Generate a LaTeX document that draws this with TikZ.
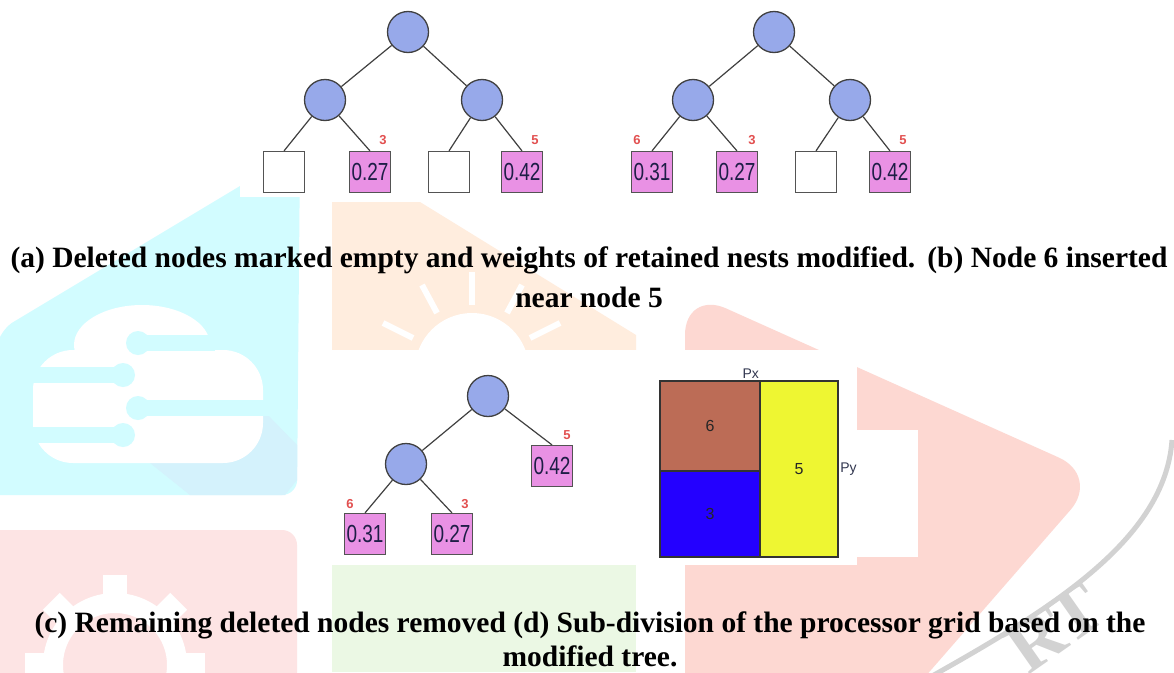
\documentclass[tikz,border=0pt]{standalone}
\usepackage{graphicx}
\usepackage{fontspec}
\setmainfont{Liberation Serif}
\newfontfamily\arialfont{Liberation Sans}
\usetikzlibrary{positioning}

\definecolor{nodeblue}{RGB}{151,169,234}
\definecolor{leafpink}{RGB}{233,145,228}
\definecolor{linegray}{RGB}{64,64,64}
\definecolor{wtred}{RGB}{226,80,80}
\definecolor{leaftext}{RGB}{30,30,70}
\definecolor{cbrown}{RGB}{188,108,86}
\definecolor{cblue}{RGB}{36,0,255}
\definecolor{cyellow}{RGB}{238,246,50}
\definecolor{axgray}{RGB}{50,55,80}
\definecolor{wmcyan}{RGB}{210,252,255}
\definecolor{wmcyandark}{RGB}{212,242,252}
\definecolor{wmorange}{RGB}{255,237,222}
\definecolor{wmred}{RGB}{253,216,210}
\definecolor{wmpink}{RGB}{253,228,228}
\definecolor{wmgreen}{RGB}{235,248,228}

\newcommand{\wval}[1]{\scalebox{1}[1.3]{#1}}

\tikzset{
  tnode/.style={circle, draw=linegray, line width=1.3pt, fill=nodeblue,
    minimum size=41pt, inner sep=0pt},
  leaf/.style={rectangle, draw=linegray!90, line width=1.2pt, fill=leafpink,
    minimum size=41pt, inner sep=0pt, text=leaftext,
    font=\arialfont\fontsize{19}{19}\selectfont},
  emptyleaf/.style={leaf, fill=white},
  wt/.style={text=wtred, inner sep=0pt,
    font=\arialfont\bfseries\fontsize{13}{13}\selectfont},
  link/.style={draw=linegray, line width=1.2pt},
  cell/.style={draw=black!80, line width=1.2pt, inner sep=0pt, text=black!85,
    font=\arialfont\fontsize{16}{16}\selectfont},
  axl/.style={text=axgray, inner sep=1.5pt,
    font=\arialfont\fontsize{14}{14}\selectfont},
  capt/.style={anchor=base, inner sep=0pt,
    font=\bfseries\fontsize{29.5}{29.5}\selectfont},
}

\begin{document}
\begin{tikzpicture}[x=1pt,y=-1pt]
  \path[use as bounding box] (0,0) rectangle (1174,672);
  \clip (0,0) rectangle (1174,672);
  \fill[white] (0,0) rectangle (1174,672);

  % watermark behind the figures
  \fill[wmcyan, rounded corners=15pt] (0,330) -- (300,150) -- (297,495) -- (-30,495) -- cycle;
  \fill[wmcyandark] (150,463) -- (263,410) -- (297,445) -- (297,480) -- (285,495) -- (190,495) -- cycle;
  \fill[white, rounded corners=40pt] (33,350) -- (33,463) -- (263,463) -- (263,350) -- cycle;
  \fill[white] (142,345) ellipse (68pt and 40pt);
  \foreach \yy/\xa/\xb in {375/20/123, 435/20/123} {
    \draw[wmcyan, line width=16pt] (\xa,\yy) -- (\xb,\yy);
    \fill[wmcyan] (\xb,\yy) circle (12pt);
  }
  \foreach \yy/\xa/\xb in {343/138/215, 408/138/275} {
    \draw[wmcyan, line width=16pt] (\xa,\yy) -- (\xb,\yy);
    \fill[wmcyan] (\xa,\yy) circle (12pt);
  }
  \fill[wmorange] (332,202) -- (420,202) -- (636,335) -- (636,350) -- (332,350) -- cycle;
  \fill[white] (472,370) circle (57pt);
  \foreach \xa/\ya/\xb/\yb in {472/272/472/305, 422/285/437/313, 383/323/413/338,
                               522/285/507/313, 560/323/530/338}
    \draw[white, line width=6pt] (\xa,\ya) -- (\xb,\yb);
  \fill[wmred, rounded corners=45pt] (685,740) -- (685,290) -- (1100,476) -- (870,740) -- cycle;
  \draw[gray!35, line width=5pt] (1172,440) .. controls (1165,540) and (1050,610) .. (925,680);
  \fill[wmpink, rounded corners=15pt] (-30,530) -- (297,530) -- (297,720) -- (-30,720) -- cycle;
  \draw[white, line width=20pt] (115,665) circle (62pt);
  \foreach \a in {0,45,...,315}
    \fill[white, rotate around={\a:(115,665)}] (103,575) rectangle (127,605);
  \fill[wmgreen] (332,565) rectangle (636,672);
  \node[text=gray!35, rotate=35, inner sep=0pt,
        font=\bfseries\fontsize{72}{72}\selectfont] (logo) at (1055,628) {RT};

  % white backs of the two figures
  \fill[white] (240,0) rectangle (930,197);
  \fill[white] (332,350) rectangle (857,565);
  \fill[white] (857,430) rectangle (918,557);

  % (a) deleted nodes marked empty
  \node[tnode] (a0) at (408,32) {};
  \node[tnode] (a1) at (325,100) {};
  \node[tnode] (a2) at (482,100) {};
  \node[emptyleaf] (a3) at (284,172) {};
  \node[leaf] (a4) at (370,172) {\wval{0.27}};
  \node[emptyleaf] (a5) at (449,172) {};
  \node[leaf] (a6) at (522,172) {\wval{0.42}};
  \node[wt] (a4w) at (383,140) {3};
  \node[wt] (a6w) at (535,140) {5};
  \foreach \p/\c in {a0/a1, a0/a2} \draw[link] (\p) -- (\c);
  \foreach \p/\c in {a1/a3, a1/a4, a2/a5, a2/a6} \draw[link] (\p) -- (\c.north);

  % (b) node 6 inserted
  \node[tnode] (b0) at (774,32) {};
  \node[tnode] (b1) at (693,100) {};
  \node[tnode] (b2) at (850,100) {};
  \node[leaf] (b3) at (652,172) {\wval{0.31}};
  \node[leaf] (b4) at (737,172) {\wval{0.27}};
  \node[emptyleaf] (b5) at (816,172) {};
  \node[leaf] (b6) at (890,172) {\wval{0.42}};
  \node[wt] (b3w) at (637,140) {6};
  \node[wt] (b4w) at (752,140) {3};
  \node[wt] (b6w) at (903,140) {5};
  \foreach \p/\c in {b0/b1, b0/b2} \draw[link] (\p) -- (\c);
  \foreach \p/\c in {b1/b3, b1/b4, b2/b5, b2/b6} \draw[link] (\p) -- (\c.north);

  % (c) deleted nodes removed
  \node[tnode] (c0) at (488,396) {};
  \node[tnode] (c1) at (406,464) {};
  \node[leaf] (c2) at (552,466) {\wval{0.42}};
  \node[leaf] (c3) at (365,534) {\wval{0.31}};
  \node[leaf] (c4) at (452,534) {\wval{0.27}};
  \node[wt] (c2w) at (567,435) {5};
  \node[wt] (c3w) at (350,504) {6};
  \node[wt] (c4w) at (465,504) {3};
  \draw[link] (c0) -- (c1);
  \foreach \p/\c in {c0/c2, c1/c3, c1/c4} \draw[link] (\p) -- (\c.north);

  % (d) processor grid
  \node[cell, fill=cbrown, minimum width=100pt, minimum height=90pt] (g6) at (710,426) {6};
  \node[cell, fill=cblue, minimum width=100pt, minimum height=86pt] (g3) at (710,514) {3};
  \node[cell, fill=cyellow, minimum width=78pt, minimum height=176pt] (g5) at (799,469) {5};
  \node[axl, anchor=south east] (px) at (g6.north east) {Px};
  \node[axl, anchor=west] (py) at (g5.east) {Py};

  % captions
  \node[capt] (capa) at (589,267) {(a) Deleted nodes marked empty and weights of retained nests modified.\hspace{12pt}(b) Node 6 inserted};
  \node[capt] (capb) at (589,307) {near node 5};
  \node[capt] (capc) at (590,632) {(c) Remaining deleted nodes removed (d) Sub-division of the processor grid based on the};
  \node[capt] (capd) at (590,666) {modified tree.};
\end{tikzpicture}
\end{document}
